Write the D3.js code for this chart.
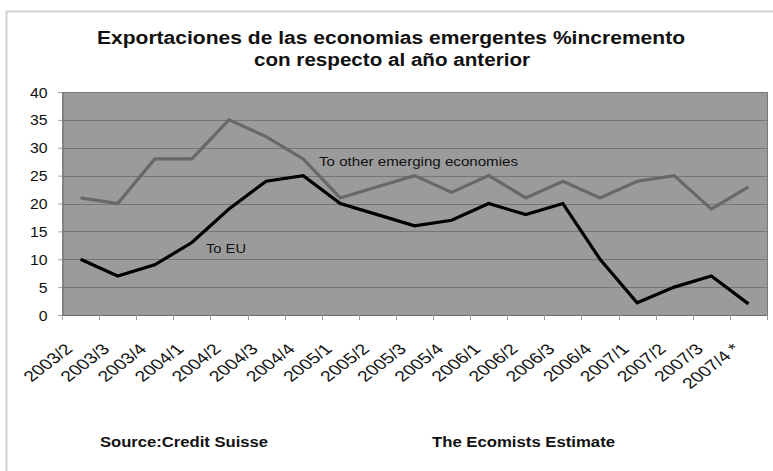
<!DOCTYPE html>
<html>
<head>
<meta charset="utf-8">
<script src="https://cdn.jsdelivr.net/npm/d3@7"></script>
<style>
  html, body { margin: 0; padding: 0; background: #fff; }
  svg { display: block; }
  text { font-family: "Liberation Sans", Arial, Helvetica, sans-serif; fill: #111; }
</style>
</head>
<body>
<svg id="chart" width="773" height="471"></svg>
<script>
// Quarterly export growth, % change on the previous year
const quarters = ["2003/2","2003/3","2003/4","2004/1","2004/2","2004/3","2004/4","2005/1","2005/2","2005/3","2005/4","2006/1","2006/2","2006/3","2006/4","2007/1","2007/2","2007/3","2007/4 *"];
const toOtherEmerging = [21, 20, 28, 28, 35, 32, 28, 21, 23, 25, 22, 25, 21, 24, 21, 24, 25, 19, 23];
const toEU = [10, 7, 9, 13, 19, 24, 25, 20, 18, 16, 17, 20, 18, 20, 10, 2.2, 5, 7, 2];
const yTicks = [0, 5, 10, 15, 20, 25, 30, 35, 40];
const titleLines = ["Exportaciones de las economias emergentes %incremento", "con respecto al año anterior"];

const svg = d3.select("#chart");

// outer chart frame
svg.append("rect")
  .attr("x", 6.5).attr("y", 11.5)
  .attr("width", 780).attr("height", 480)
  .attr("fill", "#fff").attr("stroke", "#cfcfcf").attr("stroke-width", 2);

// title
svg.append("text").attr("x", 391).attr("y", 44).attr("text-anchor", "middle")
  .attr("font-size", 17.5).attr("font-weight", "bold")
  .attr("textLength", 588).attr("lengthAdjust", "spacingAndGlyphs")
  .text(titleLines[0]);
svg.append("text").attr("x", 392).attr("y", 66).attr("text-anchor", "middle")
  .attr("font-size", 17.5).attr("font-weight", "bold")
  .attr("textLength", 276).attr("lengthAdjust", "spacingAndGlyphs")
  .text(titleLines[1]);

const plot = { left: 62, right: 767, top: 92, bottom: 315 };

const x = d3.scaleBand().domain(quarters).range([plot.left, plot.right]).padding(0);
const y = d3.scaleLinear().domain([0, 40]).range([plot.bottom, plot.top]);

// plot background
svg.append("rect")
  .attr("x", plot.left).attr("y", plot.top)
  .attr("width", plot.right - plot.left).attr("height", plot.bottom - plot.top)
  .attr("fill", "#9b9b9b");

// horizontal gridlines
svg.append("g").selectAll("line").data(yTicks.filter(d => d > 0)).join("line")
  .attr("x1", plot.left).attr("x2", plot.right)
  .attr("y1", d => Math.round(y(d)) + 0.5).attr("y2", d => Math.round(y(d)) + 0.5)
  .attr("stroke", "#767676").attr("stroke-width", 1);

// right edge of plot
svg.append("line")
  .attr("x1", plot.right + 0.5).attr("x2", plot.right + 0.5)
  .attr("y1", plot.top).attr("y2", plot.bottom)
  .attr("stroke", "#7a7a7a");

// y axis
const yAxis = svg.append("g").attr("transform", `translate(${plot.left + 0.5},0)`)
  .call(d3.axisLeft(y).tickValues(yTicks).tickSize(4).tickPadding(0).tickFormat(d3.format("d")));
yAxis.select(".domain").attr("stroke", "#6a6a6a");
yAxis.selectAll(".tick line").attr("stroke", "#9a9a9a");
yAxis.selectAll(".tick text")
  .attr("x", null).attr("dy", null)
  .attr("font-size", 14).attr("fill", "#111")
  .attr("text-anchor", "end")
  .attr("transform", "translate(-15,5) scale(1.13,1)");

// x axis: ticks sit on category boundaries
const boundaries = quarters.map(q => x(q)).concat([plot.right]);
const xg = svg.append("g");
xg.append("line")
  .attr("x1", plot.left).attr("x2", plot.right + 1)
  .attr("y1", plot.bottom + 0.5).attr("y2", plot.bottom + 0.5)
  .attr("stroke", "#6a6a6a");
xg.selectAll("line.tick").data(boundaries).join("line").attr("class", "tick")
  .attr("x1", d => Math.round(d) + 0.5).attr("x2", d => Math.round(d) + 0.5)
  .attr("y1", plot.bottom).attr("y2", plot.bottom + 5)
  .attr("stroke", "#9a9a9a");
xg.selectAll("text").data(quarters).join("text")
  .attr("text-anchor", "end")
  .attr("font-size", 15)
  .attr("transform", d => `translate(${x(d) + x.bandwidth() / 2 - 7},350) scale(1.3,1) rotate(-45)`)
  .text(d => d);

// series lines
const line = d3.line()
  .x((d, i) => x(quarters[i]) + x.bandwidth() / 2)
  .y(d => y(d));

svg.append("path").datum(toOtherEmerging)
  .attr("d", line).attr("fill", "none")
  .attr("stroke", "#686868").attr("stroke-width", 3.2)
  .attr("stroke-linejoin", "miter");

svg.append("path").datum(toEU)
  .attr("d", line).attr("fill", "none")
  .attr("stroke", "#000").attr("stroke-width", 3.2)
  .attr("stroke-linejoin", "miter");

// series labels
svg.append("text").attr("x", 319).attr("y", 166)
  .attr("font-size", 13.5)
  .attr("textLength", 199).attr("lengthAdjust", "spacingAndGlyphs")
  .text("To other emerging economies");
svg.append("text").attr("x", 206).attr("y", 253)
  .attr("font-size", 13.5)
  .attr("textLength", 40).attr("lengthAdjust", "spacingAndGlyphs")
  .text("To EU");

// footer notes
svg.append("text").attr("x", 100).attr("y", 447)
  .attr("font-size", 14).attr("font-weight", "bold")
  .attr("textLength", 168).attr("lengthAdjust", "spacingAndGlyphs")
  .text("Source:Credit Suisse");
svg.append("text").attr("x", 432).attr("y", 447)
  .attr("font-size", 14).attr("font-weight", "bold")
  .attr("textLength", 183).attr("lengthAdjust", "spacingAndGlyphs")
  .text("The Ecomists Estimate");
</script>
</body>
</html>
